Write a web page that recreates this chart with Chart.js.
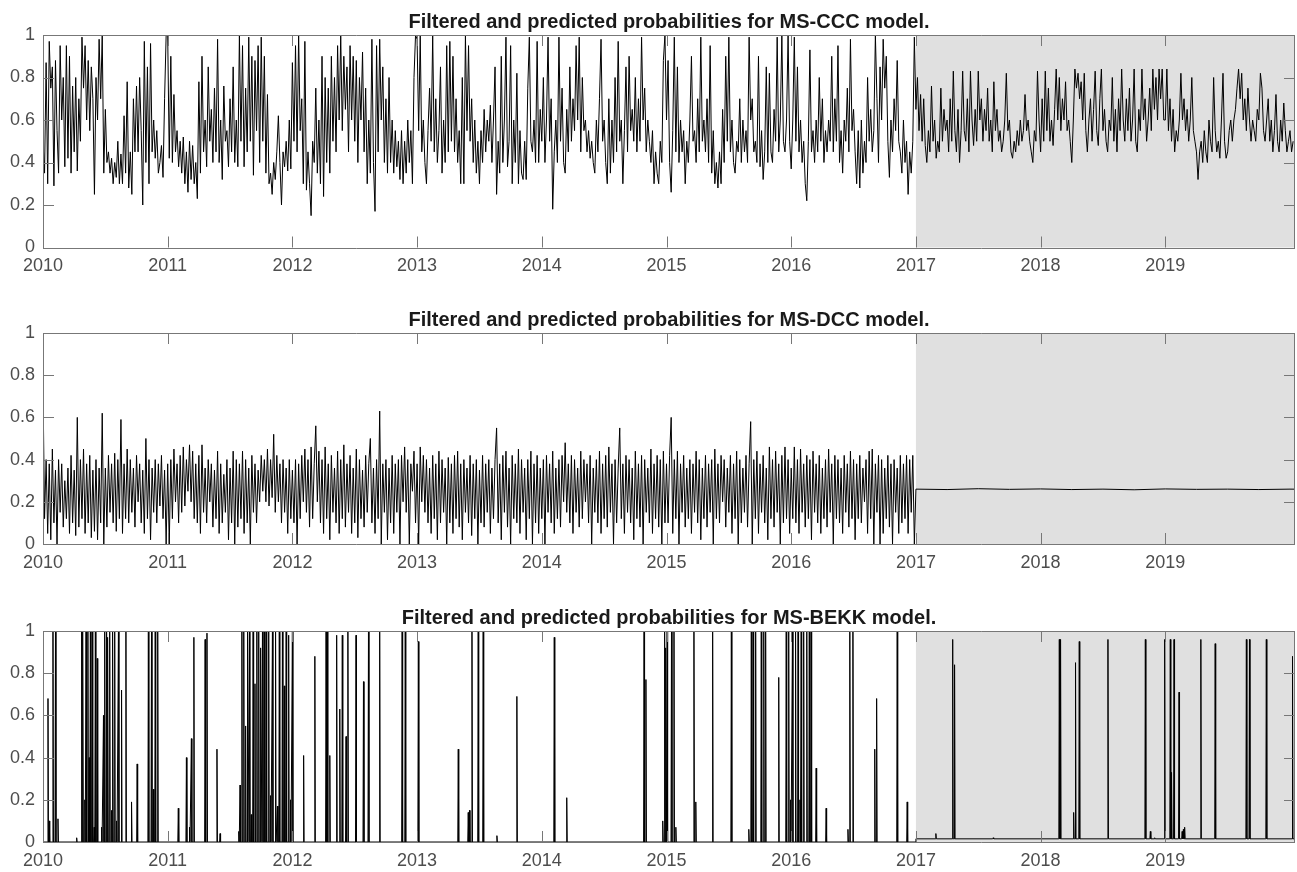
<!DOCTYPE html>
<html lang="en-US">
<head>
  <meta charset="utf-8">
  <title>Filtered and predicted probabilities</title>
  <script src="https://cdn.jsdelivr.net/npm/chart.js@4.4.1/dist/chart.umd.min.js"></script>
  <style>
    body { margin: 0; background: #fff; }
    .panel { position: absolute; left: 0; width: 1297px; }
  </style>
</head>
<body>
  <div class="panel" style="top:0;height:298px"><canvas id="chart-ccc"></canvas></div>
  <div class="panel" style="top:298px;height:298px"><canvas id="chart-dcc"></canvas></div>
  <div class="panel" style="top:596px;height:276px"><canvas id="chart-bekk"></canvas></div>

  <script>
    const startYear = 2010;
    const endYear = 2020.04;
    const forecastStart = 2017;
    const perYear = 80;          // samples per year for the MS-CCC / MS-DCC series
    const xTickYears = [2010, 2011, 2012, 2013, 2014, 2015, 2016, 2017, 2018, 2019];

    // MS-CCC, filtered (2010-2016) and predicted (2017-2019)
    const ccc2010 = [
      0.5, 0.35, 0.87, 0.3, 0.97, 0.75, 0.85, 0.29, 0.88, 0.55,
      0.35, 0.95, 0.6, 0.8, 0.38, 0.95, 0.42, 0.9, 0.35, 0.76,
      0.45, 0.8, 0.36, 0.7, 0.5, 0.99, 0.75, 0.95, 0.6, 0.88,
      0.55, 0.85, 0.7, 0.25, 0.8, 0.6, 0.98, 0.7, 1.0, 0.35,
      0.65, 0.4, 0.45, 0.35, 0.42, 0.3, 0.4, 0.33, 0.5, 0.3,
      0.44, 0.3, 0.62, 0.35, 0.78, 0.28, 0.45, 0.25, 0.7, 0.45,
      0.76, 0.45, 0.8, 0.55, 0.2, 0.97, 0.4, 0.85, 0.3, 0.96,
      0.45, 0.6, 0.42, 0.55, 0.35, 0.4, 0.48, 0.33, 0.7, 1.0
    ];
    const ccc2011 = [
      1.0, 0.42, 0.9, 0.4, 0.72, 0.45, 0.55, 0.38, 0.5, 0.35,
      0.52, 0.3, 0.45, 0.26, 0.5, 0.32, 0.48, 0.3, 0.4, 0.23,
      0.78, 0.35, 0.9, 0.45, 0.6, 0.38, 0.85, 0.5, 0.65, 0.4,
      0.75, 0.45, 0.98, 0.4, 0.6, 0.32, 0.76, 0.5, 0.55, 0.38,
      0.7, 0.45, 0.85, 0.4, 0.6, 0.38, 1.0, 0.5, 0.95, 0.38,
      0.75, 0.45, 0.99, 0.5, 0.9, 0.34, 0.88, 0.55, 0.95, 0.4,
      0.99, 0.5, 0.9, 0.35, 0.72, 0.3, 0.35, 0.25, 0.4, 0.32,
      0.45, 0.62, 0.4, 0.2, 0.45, 0.38, 0.5, 0.36, 0.6, 0.37
    ];
    const ccc2012 = [
      0.87, 0.5, 0.95, 0.45, 1.0, 0.55, 0.7, 0.3, 0.97, 0.27,
      0.45, 0.3, 0.15, 0.5, 0.4, 0.75, 0.35, 0.6, 0.3, 0.9,
      0.24, 0.8, 0.4, 0.75, 0.35, 0.9, 0.5, 0.8, 0.45, 0.95,
      0.6, 1.0, 0.55, 0.9, 0.65, 0.85, 0.45, 0.95, 0.6, 0.9,
      0.5, 0.88, 0.4, 0.8, 0.6, 0.92, 0.45, 0.75, 0.3, 0.6,
      0.35, 0.98, 0.4, 0.17, 0.95, 0.45, 0.98, 0.6, 0.85, 0.4,
      0.7, 0.35, 0.8, 0.4, 0.6, 0.35, 0.55, 0.38, 0.5, 0.32,
      0.55, 0.3, 0.5, 0.35, 0.6, 0.4, 0.55, 0.3, 0.8, 1.0
    ];
    const ccc2013 = [
      0.98, 0.55, 1.0, 0.45, 0.6, 0.4, 0.3, 0.55, 0.75, 0.5,
      1.0, 0.45, 0.7, 0.4, 0.55, 0.85, 0.35, 0.6, 0.4, 0.95,
      0.45, 0.97, 0.5, 0.9, 0.45, 0.7, 0.4, 0.55, 0.3, 0.8,
      0.3, 1.0, 0.55, 0.95, 0.5, 0.7, 0.4, 0.6, 0.35, 0.5,
      0.3, 0.55, 0.4, 0.65, 0.45, 0.6, 0.5, 0.67, 0.4, 0.6,
      0.85, 0.25, 0.5, 0.35, 0.9, 0.4, 0.6, 0.99, 0.38, 0.5,
      0.95, 0.3, 0.6, 0.4, 0.82, 0.3, 0.55, 0.35, 0.32, 0.5,
      0.32, 0.75, 0.99, 0.5, 0.45, 0.6, 0.4, 0.97, 0.4, 0.65
    ];
    const ccc2014 = [
      0.5, 0.8, 0.4, 0.6, 0.99, 0.5, 0.7, 0.18, 0.45, 0.6,
      0.4, 0.99, 0.5, 0.75, 0.4, 0.35, 0.65, 0.45, 0.85, 0.5,
      0.7, 0.55, 0.95, 0.6, 0.99, 0.45, 0.8, 0.55, 0.6, 0.45,
      0.55, 0.42, 0.5, 0.4, 0.35, 0.6, 0.45, 0.7, 0.98, 0.5,
      0.6, 0.4, 0.3, 0.7, 0.35, 0.6, 0.4, 0.8, 0.45, 0.97,
      0.5, 0.6, 0.3, 0.55, 0.85, 0.45, 0.9, 0.55, 0.65, 0.5,
      0.8, 0.45, 0.7, 0.5, 0.99, 0.6, 0.75, 0.45, 0.6, 0.5,
      0.4, 0.55, 0.3, 0.45, 0.35, 0.3, 0.5, 0.4, 0.88, 1.0
    ];
    const ccc2015 = [
      0.6, 0.88, 0.4, 0.26, 0.55, 0.99, 0.45, 0.85, 0.4, 0.6,
      0.45, 0.55, 0.3, 0.5, 0.4, 0.6, 0.9, 0.5, 0.55, 0.4,
      0.7, 0.45, 0.99, 0.5, 0.6, 0.45, 0.7, 0.4, 0.95, 0.35,
      0.55, 0.3, 0.4, 0.28, 0.45, 0.3, 0.65, 0.4, 0.9, 0.5,
      0.99, 0.45, 0.6, 0.4, 0.35, 0.5, 0.45, 0.7, 0.4, 0.6,
      0.45, 0.55, 0.4, 0.99, 0.6, 0.7, 0.45, 0.5, 0.4, 0.9,
      0.38, 0.55, 0.32, 0.45, 0.85, 0.4, 0.82, 0.45, 0.4, 0.65,
      0.5, 0.99, 0.45, 0.6, 1.0, 0.5, 0.45, 0.6, 1.0, 0.5
    ];
    const ccc2016 = [
      0.37, 0.6, 0.99, 0.5, 0.85, 0.45, 0.6, 0.4, 0.5, 0.3,
      0.22, 0.5, 0.93, 0.45, 0.55, 0.4, 0.6, 0.45, 0.8, 0.5,
      0.7, 0.4, 0.55, 0.45, 0.6, 0.5, 0.9, 0.45, 0.7, 0.5,
      0.95, 0.4, 0.55, 0.35, 0.6, 0.5, 0.75, 0.45, 0.98, 0.55,
      0.65, 0.45, 0.3, 0.55, 0.28, 0.6, 0.35, 0.5, 0.4, 0.8,
      0.5, 0.65, 0.45, 0.55, 1.0, 0.7, 0.4, 0.85, 0.6, 0.98,
      0.75, 0.9, 0.5, 0.33, 0.6, 0.45, 0.7, 0.55, 0.88, 0.5,
      0.45, 0.35, 0.6, 0.4, 0.5, 0.25, 0.45, 0.35, 0.5, 0.99
    ];
    const ccc2017 = [
      0.65, 0.8, 0.55, 0.72, 0.5, 0.7, 0.48, 0.4, 0.55, 0.45,
      0.76, 0.5, 0.6, 0.42, 0.5, 0.45, 0.75, 0.5, 0.65, 0.55,
      0.6, 0.45, 0.7, 0.5, 0.83, 0.55, 0.45, 0.65, 0.4, 0.55,
      0.83, 0.55, 0.5, 0.7, 0.45, 0.83, 0.6, 0.48, 0.65, 0.5,
      0.83, 0.6, 0.7, 0.5, 0.65, 0.55, 0.75, 0.5, 0.6, 0.45,
      0.78, 0.55, 0.65, 0.5, 0.55, 0.45, 0.5, 0.6, 0.82, 0.55,
      0.6, 0.45, 0.42, 0.5, 0.45, 0.55, 0.48, 0.6, 0.5, 0.55,
      0.72, 0.55, 0.6, 0.5, 0.45, 0.4, 0.55, 0.5, 0.83, 0.6
    ];
    const ccc2018 = [
      0.45, 0.7, 0.5, 0.83, 0.55, 0.75, 0.5, 0.6, 0.48, 0.65,
      0.84, 0.6, 0.8, 0.55, 0.7, 0.6, 0.78, 0.55, 0.6, 0.5,
      0.4, 0.6, 0.84, 0.75, 0.82, 0.7, 0.78, 0.6, 0.82, 0.55,
      0.45, 0.6, 0.7, 0.5, 0.65, 0.83, 0.55, 0.48, 0.7, 0.84,
      0.55, 0.65, 0.5, 0.45, 0.6, 0.55, 0.8, 0.5, 0.65, 0.45,
      0.7, 0.55, 0.84, 0.6, 0.5, 0.7, 0.55, 0.75, 0.5, 0.6,
      0.84, 0.5, 0.45, 0.65, 0.55, 0.84, 0.6, 0.7, 0.5, 0.6,
      0.75, 0.55, 0.84, 0.65, 0.8, 0.6, 0.84, 0.7, 0.84, 0.6
    ];
    const ccc2019 = [
      0.6, 0.84, 0.55, 0.7, 0.5, 0.65, 0.45, 0.55, 0.5, 0.6,
      0.82, 0.6, 0.7, 0.55, 0.65, 0.5, 0.6, 0.8, 0.55, 0.5,
      0.45, 0.32, 0.45, 0.5, 0.4, 0.55, 0.45, 0.4, 0.6, 0.5,
      0.45, 0.8, 0.55, 0.45, 0.5, 0.42, 0.6, 0.82, 0.5, 0.42,
      0.45, 0.55, 0.6, 0.5, 0.6, 0.65, 0.75, 0.84, 0.7, 0.82,
      0.6, 0.7, 0.55, 0.75, 0.6, 0.5, 0.6, 0.55, 0.5, 0.65,
      0.6, 0.82, 0.75, 0.55, 0.5, 0.6, 0.7, 0.5, 0.6, 0.45,
      0.55, 0.72, 0.5, 0.45, 0.6, 0.5, 0.68, 0.55, 0.45, 0.5,
      0.55, 0.45, 0.5
    ];

    // MS-DCC, filtered (2010-2016), then the flat predicted level (quarterly)
    const dcc2010 = [
      0.75, 0.12, 0.4, 0.05, 0.38, 0.02, 0.45, 0.1, 0.35, 0.0,
      0.4, 0.15, 0.38, 0.08, 0.3, 0.12, 0.36, 0.05, 0.42, 0.1,
      0.35, 0.04, 0.6, 0.08, 0.4, 0.12, 0.45, 0.05, 0.38, 0.1,
      0.42, 0.03, 0.35, 0.06, 0.4, 0.02, 0.36, 0.1, 0.62, 0.0,
      0.36, 0.08, 0.42, 0.15, 0.38, 0.1, 0.43, 0.06, 0.4, 0.12,
      0.59, 0.05, 0.38, 0.12, 0.45, 0.1, 0.4, 0.15, 0.36, 0.08,
      0.42, 0.2, 0.38, 0.1, 0.35, 0.05, 0.5, 0.12, 0.4, 0.02,
      0.36, 0.15, 0.4, 0.1, 0.38, 0.18, 0.42, 0.12, 0.35, 0.0
    ];
    const dcc2011 = [
      0.38, 0.0, 0.4, 0.12, 0.45, 0.2, 0.38, 0.1, 0.42, 0.15,
      0.46, 0.18, 0.4, 0.25, 0.47, 0.2, 0.44, 0.12, 0.38, 0.1,
      0.42, 0.05, 0.47, 0.15, 0.36, 0.1, 0.4, 0.2, 0.38, 0.08,
      0.35, 0.12, 0.44, 0.05, 0.38, 0.1, 0.33, 0.15, 0.4, 0.02,
      0.36, 0.1, 0.44, 0.0, 0.4, 0.08, 0.38, 0.12, 0.44, 0.05,
      0.4, 0.1, 0.36, 0.0, 0.42, 0.15, 0.38, 0.1, 0.35, 0.2,
      0.42, 0.25, 0.4, 0.2, 0.45, 0.18, 0.4, 0.22, 0.52, 0.15,
      0.42, 0.2, 0.38, 0.1, 0.4, 0.15, 0.36, 0.05, 0.4, 0.12
    ];
    const dcc2012 = [
      0.35, 0.1, 0.4, 0.0, 0.38, 0.12, 0.42, 0.2, 0.45, 0.15,
      0.4, 0.08, 0.46, 0.12, 0.38, 0.56, 0.2, 0.44, 0.1, 0.4,
      0.05, 0.46, 0.12, 0.38, 0.02, 0.42, 0.15, 0.36, 0.1, 0.44,
      0.05, 0.4, 0.12, 0.47, 0.08, 0.38, 0.15, 0.42, 0.05, 0.36,
      0.1, 0.45, 0.03, 0.4, 0.12, 0.35, 0.08, 0.42, 0.15, 0.38,
      0.5, 0.1, 0.36, 0.05, 0.4, 0.12, 0.63, 0.0, 0.38, 0.15,
      0.4, 0.02, 0.36, 0.1, 0.42, 0.05, 0.38, 0.15, 0.4, 0.0,
      0.42, 0.2, 0.46, 0.15, 0.4, 0.0, 0.38, 0.25, 0.44, 0.1
    ];
    const dcc2013 = [
      0.38, 0.0, 0.46, 0.2, 0.42, 0.15, 0.4, 0.1, 0.36, 0.05,
      0.42, 0.12, 0.38, 0.02, 0.44, 0.1, 0.4, 0.15, 0.36, 0.0,
      0.41, 0.1, 0.38, 0.05, 0.42, 0.12, 0.44, 0.08, 0.38, 0.02,
      0.4, 0.15, 0.36, 0.1, 0.42, 0.04, 0.38, 0.12, 0.4, 0.0,
      0.35, 0.1, 0.42, 0.08, 0.38, 0.15, 0.4, 0.05, 0.36, 0.12,
      0.4, 0.55, 0.1, 0.38, 0.02, 0.42, 0.15, 0.44, 0.08, 0.36,
      0.0, 0.42, 0.12, 0.38, 0.1, 0.45, 0.05, 0.4, 0.15, 0.36,
      0.02, 0.4, 0.12, 0.44, 0.0, 0.38, 0.1, 0.42, 0.05, 0.36
    ];
    const dcc2014 = [
      0.12, 0.4, 0.0, 0.42, 0.15, 0.38, 0.1, 0.44, 0.05, 0.36,
      0.12, 0.4, 0.08, 0.42, 0.2, 0.48, 0.15, 0.38, 0.1, 0.42,
      0.05, 0.4, 0.15, 0.36, 0.08, 0.44, 0.12, 0.4, 0.2, 0.38,
      0.1, 0.42, 0.0, 0.36, 0.15, 0.4, 0.1, 0.44, 0.05, 0.38,
      0.12, 0.42, 0.08, 0.46, 0.15, 0.38, 0.0, 0.4, 0.1, 0.36,
      0.55, 0.12, 0.38, 0.05, 0.42, 0.15, 0.4, 0.1, 0.36, 0.02,
      0.44, 0.12, 0.38, 0.08, 0.42, 0.0, 0.4, 0.15, 0.36, 0.1,
      0.45, 0.05, 0.38, 0.12, 0.42, 0.08, 0.4, 0.0, 0.44, 0.1
    ];
    const dcc2015 = [
      0.38, 0.1, 0.42, 0.6, 0.05, 0.4, 0.12, 0.44, 0.0, 0.38,
      0.15, 0.42, 0.08, 0.36, 0.12, 0.4, 0.05, 0.38, 0.15, 0.44,
      0.1, 0.4, 0.02, 0.36, 0.12, 0.42, 0.08, 0.38, 0.15, 0.4,
      0.0, 0.45, 0.12, 0.38, 0.1, 0.42, 0.2, 0.4, 0.08, 0.36,
      0.15, 0.42, 0.05, 0.38, 0.12, 0.44, 0.0, 0.4, 0.1, 0.36,
      0.15, 0.42, 0.08, 0.38, 0.58, 0.0, 0.4, 0.12, 0.44, 0.05,
      0.38, 0.15, 0.42, 0.1, 0.36, 0.02, 0.46, 0.12, 0.4, 0.08,
      0.44, 0.15, 0.38, 0.0, 0.42, 0.1, 0.46, 0.12, 0.4, 0.05
    ];
    const dcc2016 = [
      0.36, 0.12, 0.46, 0.1, 0.4, 0.05, 0.45, 0.15, 0.38, 0.08,
      0.42, 0.12, 0.4, 0.02, 0.44, 0.15, 0.38, 0.1, 0.42, 0.05,
      0.36, 0.12, 0.4, 0.08, 0.45, 0.15, 0.38, 0.0, 0.42, 0.12,
      0.4, 0.1, 0.36, 0.05, 0.42, 0.15, 0.38, 0.08, 0.44, 0.12,
      0.4, 0.02, 0.38, 0.12, 0.42, 0.1, 0.36, 0.2, 0.4, 0.05,
      0.44, 0.12, 0.45, 0.0, 0.38, 0.15, 0.42, 0.0, 0.4, 0.05,
      0.36, 0.12, 0.42, 0.08, 0.38, 0.0, 0.4, 0.15, 0.36, 0.05,
      0.42, 0.1, 0.38, 0.12, 0.42, 0.05, 0.4, 0.15, 0.42, 0.0
    ];
    const dccPredicted = [0.26, 0.258, 0.262, 0.259, 0.261, 0.258, 0.26, 0.257, 0.261, 0.259, 0.26, 0.258, 0.26, 0.259];
    const dccPredictedStep = 0.25;

    // MS-BEKK: near zero except for one-day jumps (date, probability)
    const bekkSpikeYear = [
      2010.04, 2010.05, 2010.08, 2010.10, 2010.12, 2010.27,
      2010.31, 2010.32, 2010.335, 2010.345, 2010.36, 2010.37, 2010.38, 2010.395, 2010.41, 2010.42, 2010.435,
      2010.47, 2010.485, 2010.495, 2010.51, 2010.52, 2010.535, 2010.55, 2010.56, 2010.575, 2010.59, 2010.605, 2010.63,
      2010.665, 2010.71, 2010.755, 2010.845, 2010.87, 2010.885, 2010.9, 2010.92,
      2011.085, 2011.15, 2011.175, 2011.19, 2011.21, 2011.3, 2011.315, 2011.395, 2011.42, 2011.57, 2011.58,
      2011.595, 2011.61, 2011.625, 2011.64, 2011.655, 2011.67, 2011.685, 2011.7, 2011.715, 2011.73, 2011.745, 2011.76, 2011.775, 2011.79,
      2011.81, 2011.825, 2011.84, 2011.865, 2011.88, 2011.895, 2011.92, 2011.935, 2011.95, 2011.97, 2011.985, 2012.0,
      2012.09, 2012.18, 2012.27, 2012.28, 2012.3, 2012.355, 2012.38, 2012.4, 2012.43, 2012.445, 2012.51, 2012.57, 2012.61, 2012.7, 2012.88, 2012.905, 2013.01,
      2013.33, 2013.41, 2013.42, 2013.44, 2013.49, 2013.53, 2013.64, 2013.8, 2014.1, 2014.2,
      2014.82, 2014.835, 2014.97, 2014.985, 2014.995, 2015.005, 2015.04, 2015.06, 2015.075,
      2015.22, 2015.235, 2015.37, 2015.52, 2015.66, 2015.68, 2015.695, 2015.715, 2015.76, 2015.78, 2015.795, 2015.9,
      2015.96, 2015.98, 2015.995, 2016.01, 2016.035, 2016.055, 2016.07, 2016.08, 2016.1, 2016.125, 2016.145, 2016.16,
      2016.2, 2016.28, 2016.455, 2016.47, 2016.495, 2016.67, 2016.685, 2016.85, 2016.93,
      2017.16, 2017.295, 2017.31, 2017.62, 2018.15, 2018.16, 2018.265, 2018.28, 2018.31, 2018.54, 2018.84, 2018.88, 2018.915,
      2018.995, 2019.04, 2019.05, 2019.07, 2019.11, 2019.135, 2019.145, 2019.155, 2019.285, 2019.4, 2019.65, 2019.675, 2019.81, 2020.02
    ];
    const bekkSpikeProb = [
      0.68, 0.10, 1.0, 1.0, 0.11, 0.02,
      1.0, 1.0, 0.2, 1.0, 1.0, 0.4, 1.0, 1.0, 0.07, 1.0, 0.87,
      0.07, 0.6, 1.0, 1.0, 0.97, 1.0, 0.15, 1.0, 1.0, 0.1, 1.0, 0.72,
      1.0, 0.19, 0.37, 1.0, 1.0, 0.25, 1.0, 1.0,
      0.16, 0.4, 0.07, 0.49, 0.97, 0.96, 0.99, 0.44, 0.04, 0.05, 0.27,
      1.0, 1.0, 0.55, 1.0, 1.0, 0.13, 1.0, 0.75, 1.0, 1.0, 0.92, 1.0, 1.0, 1.0,
      1.0, 0.22, 1.0, 1.0, 0.17, 1.0, 1.0, 0.74, 1.0, 0.98, 0.2, 1.0,
      0.41, 0.88, 1.0, 1.0, 0.41, 0.98, 0.63, 0.98, 0.5, 1.0, 0.98, 0.76, 1.0, 1.0, 1.0, 1.0, 0.95,
      0.44, 0.14, 0.15, 1.0, 1.0, 1.0, 0.03, 0.69, 0.97, 0.21,
      1.0, 0.77, 0.1, 1.0, 0.92, 1.0, 1.0, 1.0, 0.07,
      1.0, 0.19, 1.0, 1.0, 0.06, 1.0, 1.0, 1.0, 1.0, 1.0, 1.0, 0.78,
      1.0, 1.0, 0.2, 1.0, 1.0, 1.0, 0.2, 1.0, 1.0, 1.0, 1.0, 1.0,
      0.35, 0.16, 0.06, 1.0, 1.0, 0.44, 0.68, 1.0, 0.19,
      0.04, 0.96, 0.84, 0.02, 0.96, 0.96, 0.14, 0.85, 0.95, 0.96, 0.96, 0.05, 0.02,
      0.96, 0.96, 0.33, 0.96, 0.71, 0.05, 0.06, 0.07, 0.96, 0.94, 0.96, 0.96, 0.96, 0.88
    ];
    const bekkFilteredFloor = 0;
    const bekkPredictedFloor = 0.015;
    const oneDay = 1 / 252;

    function sampled(values, from, step) {
      return values.map((v, i) => ({ x: from + i * step, y: v }));
    }

    const cccPoints = sampled([].concat(ccc2010, ccc2011, ccc2012, ccc2013, ccc2014,
      ccc2015, ccc2016, ccc2017, ccc2018, ccc2019), startYear, 1 / perYear);

    const dccPoints = sampled([].concat(dcc2010, dcc2011, dcc2012, dcc2013, dcc2014,
      dcc2015, dcc2016), startYear, 1 / perYear)
      .concat(sampled(dccPredicted, forecastStart, dccPredictedStep));

    const bekkPoints = [{ x: startYear, y: bekkFilteredFloor }];
    let switched = false;
    bekkSpikeYear.forEach((t, i) => {
      if (!switched && t >= forecastStart) {
        bekkPoints.push({ x: forecastStart, y: bekkFilteredFloor }, { x: forecastStart, y: bekkPredictedFloor });
        switched = true;
      }
      const floor = t < forecastStart ? bekkFilteredFloor : bekkPredictedFloor;
      bekkPoints.push({ x: t - oneDay, y: floor }, { x: t, y: bekkSpikeProb[i] }, { x: t + oneDay, y: floor });
    });
    bekkPoints.push({ x: endYear, y: bekkPredictedFloor });

    Chart.defaults.font.family = "'Liberation Sans', Arial, sans-serif";

    const tickLen = 11;
    const frame = {
      id: 'frame',
      beforeDatasetsDraw(chart) {
        const { ctx, chartArea: a, scales: { x } } = chart;
        const x0 = x.getPixelForValue(forecastStart);
        ctx.save();
        ctx.fillStyle = '#e0e0e0';
        ctx.fillRect(x0, a.top, a.right - x0, a.bottom - a.top);
        ctx.restore();
      },
      afterDatasetsDraw(chart) {
        const { ctx, chartArea: a, scales: { x, y } } = chart;
        ctx.save();
        ctx.strokeStyle = '#777';
        ctx.lineWidth = 1;
        ctx.beginPath();
        x.ticks.forEach(t => {
          const px = Math.round(x.getPixelForValue(t.value)) + 0.5;
          ctx.moveTo(px, a.bottom); ctx.lineTo(px, a.bottom - tickLen);
          ctx.moveTo(px, a.top); ctx.lineTo(px, a.top + tickLen);
        });
        y.ticks.forEach(t => {
          const py = Math.round(y.getPixelForValue(t.value)) + 0.5;
          ctx.moveTo(a.left, py); ctx.lineTo(a.left + tickLen, py);
          ctx.moveTo(a.right, py); ctx.lineTo(a.right - tickLen, py);
        });
        ctx.rect(Math.round(a.left) + 0.5, Math.round(a.top) + 0.5,
          Math.round(a.right - a.left) - 1, Math.round(a.bottom - a.top));
        ctx.stroke();
        ctx.restore();
      }
    };

    function drawPanel(id, title, points, xHeight) {
      return new Chart(document.getElementById(id), {
        type: 'line',
        data: {
          datasets: [{
            data: points,
            borderColor: '#000',
            borderWidth: 1,
            pointRadius: 0,
            tension: 0,
            fill: false
          }]
        },
        options: {
          responsive: true,
          maintainAspectRatio: false,
          animation: false,
          parsing: false,
          layout: { padding: { left: 0, right: 2, top: 0, bottom: 0 } },
          plugins: {
            legend: { display: false },
            tooltip: { enabled: false },
            title: {
              display: true,
              fullSize: false,
              text: title,
              color: '#1a1a1a',
              font: { size: 20, weight: 'bold' },
              padding: { top: 10, bottom: 1 }
            }
          },
          scales: {
            x: {
              type: 'linear',
              min: startYear,
              max: endYear,
              grid: { display: false, drawTicks: false },
              border: { display: false },
              afterBuildTicks: s => { s.ticks = xTickYears.map(v => ({ value: v })); },
              afterFit: s => { s.height = xHeight; },
              ticks: {
                color: '#4d4d4d',
                font: { size: 18 },
                padding: 8,
                maxRotation: 0,
                autoSkip: false,
                callback: v => String(v)
              }
            },
            y: {
              min: 0,
              max: 1,
              grid: { display: false, drawTicks: false },
              border: { display: false },
              afterFit: s => { s.width = 43; },
              ticks: {
                stepSize: 0.2,
                color: '#4d4d4d',
                font: { size: 18 },
                padding: 8,
                callback: v => String(+v.toFixed(1))
              }
            }
          }
        },
        plugins: [frame]
      });
    }

    drawPanel('chart-ccc', 'Filtered and predicted probabilities for MS-CCC model.', cccPoints, 50.5);
    drawPanel('chart-dcc', 'Filtered and predicted probabilities for MS-DCC model.', dccPoints, 52);
    drawPanel('chart-bekk', 'Filtered and predicted probabilities for MS-BEKK model.', bekkPoints, 30);
  </script>
</body>
</html>
